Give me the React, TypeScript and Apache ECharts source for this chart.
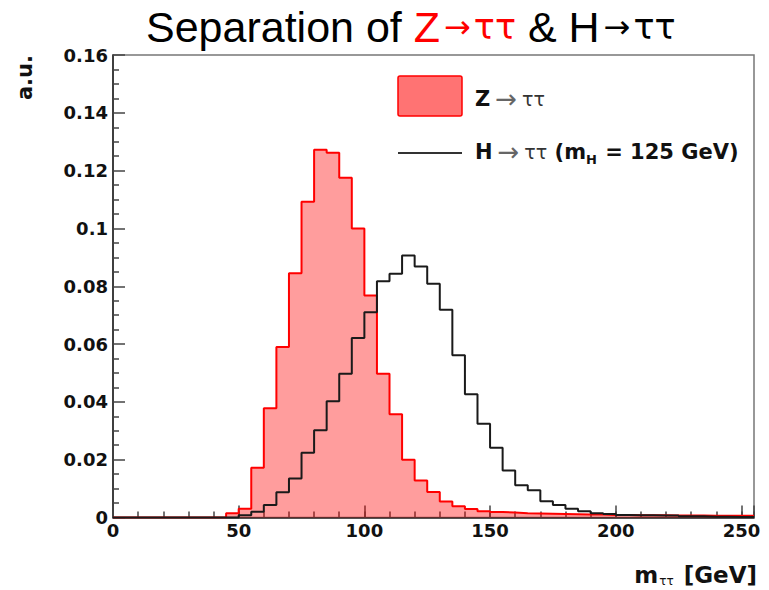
import React, { useEffect, useRef } from 'react';
import * as echarts from 'echarts';

// Histogram binning: 5 GeV bins starting at 0 GeV
const binWidth = 5;

// Z -> tautau (filled red), one value per 5 GeV bin, 0..255 GeV
const zValues = [
  0, 0, 0, 0, 0, 0, 0, 0, 0, 0.0015,
  0.003, 0.0172, 0.0378, 0.059, 0.0845, 0.1092, 0.1272, 0.1262, 0.1175, 0.1,
  0.0768, 0.0497, 0.0357, 0.02, 0.0128, 0.0088, 0.0055, 0.0039, 0.0029, 0.0022,
  0.0019, 0.0017, 0.0015, 0.0014, 0.0013, 0.0012, 0.0011, 0.001, 0.001, 0.0009,
  0.0009, 0.0008, 0.0008, 0.0008, 0.0007, 0.0007, 0.0007, 0.0006, 0.0006, 0.0006,
  0.0006,
];

// H -> tautau (mH = 125 GeV), black outline
const hValues = [
  0, 0, 0, 0, 0, 0, 0, 0, 0, 0,
  0.0008, 0.002, 0.0043, 0.0087, 0.0135, 0.0224, 0.0302, 0.0402, 0.0497, 0.0621,
  0.071, 0.0817, 0.0843, 0.0906, 0.0868, 0.0809, 0.0719, 0.0561, 0.0426, 0.0324,
  0.0241, 0.0163, 0.0112, 0.0094, 0.0056, 0.0043, 0.003, 0.0022, 0.0015, 0.0012,
  0.0009, 0.0008, 0.0008, 0.0007, 0.0007, 0.0004, 0.0004, 0.0003, 0.0003, 0.0002,
  0.0002,
];

const xMin = 0;
const xMax = 255;
const xMajor = 50;
const xMinor = 10;
const yMin = 0;
const yMax = 0.16;
const yMajor = 0.02;

function toSteps(values: number[]): number[][] {
  const pts = values.map((v, i) => [i * binWidth, v]);
  pts.push([values.length * binWidth, values[values.length - 1]]);
  return pts;
}

const FONT = 'DejaVu Sans';
const TFONT = 'Liberation Sans';

export default function App() {
  const ref = useRef<HTMLDivElement>(null);

  useEffect(() => {
    if (!ref.current) return;
    const chart = echarts.init(ref.current, undefined, { renderer: 'svg' });
    const tickStyle = { color: '#444', width: 1.5 };
    const option: any = {
      animation: false,
      backgroundColor: '#fff',
      grid: {
        left: 113,
        right: 15,
        top: 55,
        bottom: 72.5,
        show: true,
        borderColor: '#777',
        borderWidth: 1.5,
        outerBoundsMode: 'none',
      },
      xAxis: [
        {
          type: 'value',
          min: xMin,
          max: xMax,
          interval: xMajor,
          axisLine: { show: true, onZero: false, lineStyle: { color: '#222', width: 1.5 } },
          axisTick: { show: true, inside: true, length: 12, lineStyle: tickStyle },
          splitLine: { show: false },
          axisLabel: {
            margin: 4,
            fontFamily: FONT,
            fontWeight: 'bold',
            fontSize: 18,
            color: '#111',
            formatter: (v: number) => (v % xMajor === 0 ? String(v) : ''),
          },
        },
        {
          type: 'value',
          min: xMin,
          max: xMax,
          interval: xMinor,
          position: 'bottom',
          axisLine: { show: false },
          axisTick: { show: true, inside: true, length: 6, lineStyle: tickStyle },
          axisLabel: { show: false },
          splitLine: { show: false },
        },
      ],
      yAxis: {
        type: 'value',
        min: yMin,
        max: yMax,
        interval: yMajor,
        axisLine: { show: true, lineStyle: { color: '#222', width: 1.5 } },
        axisTick: { show: true, inside: true, length: 12, lineStyle: tickStyle },
        minorTick: { show: true, splitNumber: 4, length: 6, lineStyle: tickStyle },
        splitLine: { show: false },
        minorSplitLine: { show: false },
        axisLabel: {
          margin: 5,
          fontFamily: FONT,
          fontWeight: 'bold',
          fontSize: 18,
          color: '#111',
        },
      },
      series: [
        {
          name: 'Z → ττ',
          type: 'line',
          step: 'end',
          xAxisIndex: 0,
          data: toSteps(zValues),
          symbol: 'none',
          lineStyle: { color: '#ff0000', width: 2 },
          areaStyle: { color: 'rgba(255,0,0,0.55)', origin: 'start' },
          z: 2,
        },
        {
          name: 'H → ττ',
          type: 'line',
          step: 'end',
          xAxisIndex: 0,
          data: toSteps(hValues),
          symbol: 'none',
          lineStyle: { color: '#1a1a1a', width: 2 },
          z: 3,
        },
      ],
      graphic: [
        {
          type: 'text',
          left: 146,
          top: 5,
          style: {
            text: '{k|Separation of }{r|Z}{ra|→}{rt|ττ}{k| & H}{ka|→}{kt|ττ}',
            rich: {
              k: { fontFamily: TFONT, fontSize: 43, fill: '#000' },
              r: { fontFamily: TFONT, fontSize: 43, fill: '#ff0000' },
              rt: { fontFamily: FONT, fontSize: 35, fill: '#ff0000' },
              kt: { fontFamily: FONT, fontSize: 35, fill: '#000' },
              ra: { fontFamily: FONT, fontSize: 32, fill: '#ff0000', padding: [0, 3, 0, 4] },
              ka: { fontFamily: FONT, fontSize: 32, fill: '#000', padding: [0, 3, 0, 4] },
            },
          },
        },
        {
          type: 'rect',
          shape: { x: 398, y: 76, width: 64, height: 40, r: 2 },
          style: { fill: 'rgba(255,0,0,0.55)', stroke: '#ff0000', lineWidth: 1.5 },
        },
        {
          type: 'text',
          x: 475,
          y: 99,
          style: {
            text: '{b|Z}{ar|→}{t|ττ}',
            verticalAlign: 'middle',
            rich: {
              b: { fontFamily: FONT, fontWeight: 'bold', fontSize: 21, fill: '#111' },
              ar: { fontFamily: FONT, fontSize: 26, fill: '#666', padding: [0, 5, 0, 5] },
              t: { fontFamily: FONT, fontSize: 19, fill: '#333' },
            },
          },
        },
        {
          type: 'line',
          shape: { x1: 398, y1: 153, x2: 462, y2: 153 },
          style: { stroke: '#333', lineWidth: 2 },
        },
        {
          type: 'text',
          x: 475,
          y: 152,
          style: {
            text: '{b|H}{ar|→}{t|ττ}{b| (m}{sub|H}{b| = 125 GeV)}',
            verticalAlign: 'middle',
            rich: {
              b: { fontFamily: FONT, fontWeight: 'bold', fontSize: 21, fill: '#111' },
              ar: { fontFamily: FONT, fontSize: 26, fill: '#666', padding: [0, 5, 0, 5] },
              t: { fontFamily: FONT, fontSize: 19, fill: '#333' },
              sub: { fontFamily: FONT, fontWeight: 'bold', fontSize: 13, fill: '#111', padding: [14, 1, 0, 0] },
            },
          },
        },
        {
          type: 'text',
          x: 25,
          y: 55,
          rotation: Math.PI / 2,
          style: {
            text: 'a.u.',
            align: 'right',
            verticalAlign: 'middle',
            fontFamily: FONT,
            fontWeight: 'bold',
            fontSize: 21,
            fill: '#111',
          },
        },
        {
          type: 'text',
          x: 757,
          y: 575,
          style: {
            text: '{b|m}{sub|ττ}{b| [GeV]}',
            align: 'right',
            verticalAlign: 'middle',
            rich: {
              b: { fontFamily: FONT, fontWeight: 'bold', fontSize: 23, fill: '#111' },
              sub: { fontFamily: FONT, fontSize: 12, fill: '#111', padding: [12, 2, 0, 1] },
            },
          },
        },
      ],
    };
    chart.setOption(option);
    return () => chart.dispose();
  }, []);

  return (
    <div
      ref={ref}
      style={{ position: 'fixed', left: 0, top: 0, width: 769, height: 590, background: '#fff' }}
    />
  );
}
